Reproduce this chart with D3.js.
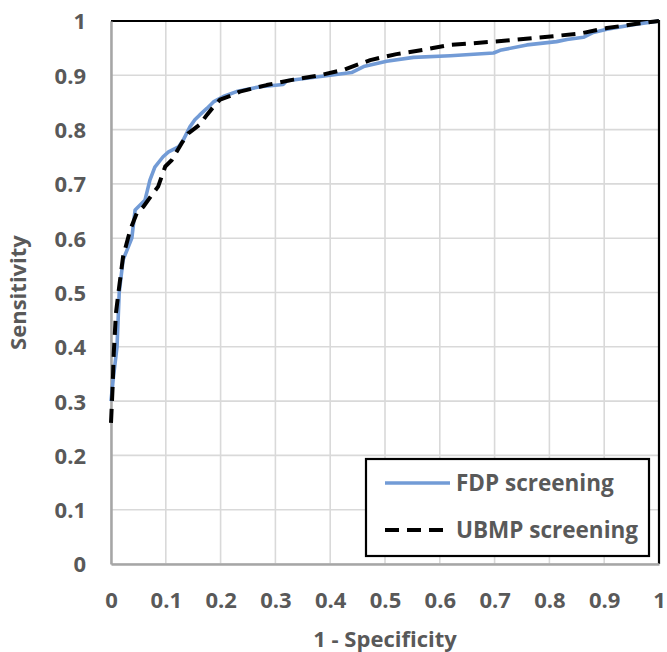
<!DOCTYPE html>
<html>
<head>
<meta charset="utf-8">
<script src="https://cdn.jsdelivr.net/npm/d3@7"></script>
<style>
  html, body { margin: 0; padding: 0; background: #fff; }
  svg text { font-family: "Open Sans", "Liberation Sans", sans-serif; font-weight: bold; fill: #595959; }
</style>
</head>
<body>
<svg id="chart" width="667" height="652"></svg>
<script>
// ---- data ----
const xTicks = [0, 0.1, 0.2, 0.3, 0.4, 0.5, 0.6, 0.7, 0.8, 0.9, 1];
const yTicks = [0, 0.1, 0.2, 0.3, 0.4, 0.5, 0.6, 0.7, 0.8, 0.9, 1];
const xTickLabels = ["0", "0.1", "0.2", "0.3", "0.4", "0.5", "0.6", "0.7", "0.8", "0.9", "1"];
const yTickLabels = ["0", "0.1", "0.2", "0.3", "0.4", "0.5", "0.6", "0.7", "0.8", "0.9", "1"];
const seriesNames = ["FDP screening", "UBMP screening"];

const fdpX = [0, 0.004, 0.011, 0.015, 0.022, 0.038, 0.044, 0.059, 0.062, 0.071, 0.080, 0.095, 0.105, 0.123, 0.132, 0.144, 0.153, 0.162, 0.175, 0.187, 0.205, 0.229, 0.272, 0.314, 0.321, 0.400, 0.439, 0.461, 0.503, 0.552, 0.619, 0.698, 0.710, 0.759, 0.813, 0.832, 0.862, 0.880, 0.905, 0.953, 1];
const fdpY = [0.30, 0.34, 0.40, 0.50, 0.56, 0.60, 0.652, 0.667, 0.670, 0.707, 0.731, 0.750, 0.759, 0.768, 0.781, 0.805, 0.818, 0.827, 0.839, 0.851, 0.861, 0.870, 0.879, 0.883, 0.890, 0.900, 0.905, 0.916, 0.926, 0.933, 0.936, 0.941, 0.946, 0.956, 0.962, 0.966, 0.970, 0.979, 0.985, 0.993, 1];

const ubmpX = [0, 0.003, 0.005, 0.009, 0.015, 0.022, 0.035, 0.047, 0.059, 0.077, 0.086, 0.099, 0.111, 0.129, 0.141, 0.162, 0.175, 0.187, 0.199, 0.223, 0.235, 0.284, 0.333, 0.381, 0.424, 0.473, 0.521, 0.570, 0.619, 0.661, 0.722, 0.807, 0.856, 0.905, 0.953, 1];
const ubmpY = [0.26, 0.327, 0.388, 0.462, 0.511, 0.566, 0.615, 0.646, 0.658, 0.683, 0.695, 0.732, 0.744, 0.775, 0.793, 0.809, 0.827, 0.842, 0.855, 0.864, 0.870, 0.882, 0.892, 0.900, 0.910, 0.928, 0.939, 0.947, 0.956, 0.959, 0.964, 0.972, 0.977, 0.987, 0.994, 1];

// ---- layout ----
const svg = d3.select("#chart");
const L = 111, R = 659, T = 21, B = 564;
const x = d3.scaleLinear().domain([0, 1]).range([L, R]);
const y = d3.scaleLinear().domain([0, 1]).range([B, T]);

// gridlines
svg.append("g").selectAll("line").data(xTicks).join("line")
  .attr("x1", d => x(d)).attr("x2", d => x(d)).attr("y1", T).attr("y2", B)
  .attr("stroke", "#d9d9d9").attr("stroke-width", 1.6);
svg.append("g").selectAll("line").data(yTicks).join("line")
  .attr("x1", L).attr("x2", R).attr("y1", d => y(d)).attr("y2", d => y(d))
  .attr("stroke", "#d9d9d9").attr("stroke-width", 1.6);

// plot border (top/right black)
svg.append("path")
  .attr("d", `M${L},${T}H${R}V${B}`)
  .attr("fill", "none").attr("stroke", "#000").attr("stroke-width", 2.2);

// axes
const xAxis = d3.axisBottom(x).tickValues(xTicks).tickFormat((d, i) => xTickLabels[i]).tickSize(0).tickPadding(0);
const gx = svg.append("g").attr("transform", `translate(0,${B})`).call(xAxis);
gx.select(".domain").attr("stroke", "#a6a6a6").attr("stroke-width", 2.5);
gx.selectAll("text").attr("y", 44).attr("dy", 0).style("font-size", "22px");

const yAxis = d3.axisLeft(y).tickValues(yTicks).tickFormat((d, i) => yTickLabels[i]).tickSize(0).tickPadding(0);
const gy = svg.append("g").attr("transform", `translate(${L},0)`).call(yAxis);
gy.select(".domain").attr("stroke", "#a6a6a6").attr("stroke-width", 2.5);
gy.selectAll("text").attr("x", -25).attr("dy", "0.36em").style("font-size", "22px");

// series
const line = d3.line().x(d => x(d[0])).y(d => y(d[1]));
const fdp = fdpX.map((v, i) => [v, fdpY[i]]);
const ubmp = ubmpX.map((v, i) => [v, ubmpY[i]]);

svg.append("path").datum(fdp).attr("d", line)
  .attr("fill", "none").attr("stroke", "#729bd6").attr("stroke-width", 3.6).attr("stroke-linejoin", "round");
svg.append("path").datum(ubmp).attr("d", line)
  .attr("fill", "none").attr("stroke", "#000").attr("stroke-width", 4)
  .attr("stroke-dasharray", "14,8").attr("stroke-linejoin", "round");

// axis titles
svg.append("text").attr("x", x(0.5)).attr("y", 647).attr("text-anchor", "middle")
  .style("font-size", "22px").text("1 - Specificity");
svg.append("text").attr("transform", `translate(26,${(T + B) / 2}) rotate(-90)`)
  .attr("text-anchor", "middle").style("font-size", "22px").text("Sensitivity");

// legend
const lg = svg.append("g");
lg.append("rect").attr("x", 366).attr("y", 459).attr("width", 283).attr("height", 97)
  .attr("fill", "#fff").attr("stroke", "#000").attr("stroke-width", 2.2);
lg.append("line").attr("x1", 385).attr("x2", 450).attr("y1", 483).attr("y2", 483)
  .attr("stroke", "#729bd6").attr("stroke-width", 3.6);
lg.append("line").attr("x1", 385).attr("x2", 450).attr("y1", 530).attr("y2", 530)
  .attr("stroke", "#000").attr("stroke-width", 4).attr("stroke-dasharray", "14,8");
lg.append("text").attr("x", 456).attr("y", 491).style("font-size", "22.5px").text(seriesNames[0]);
lg.append("text").attr("x", 456).attr("y", 538).style("font-size", "22.5px").text(seriesNames[1]);
</script>
</body>
</html>
